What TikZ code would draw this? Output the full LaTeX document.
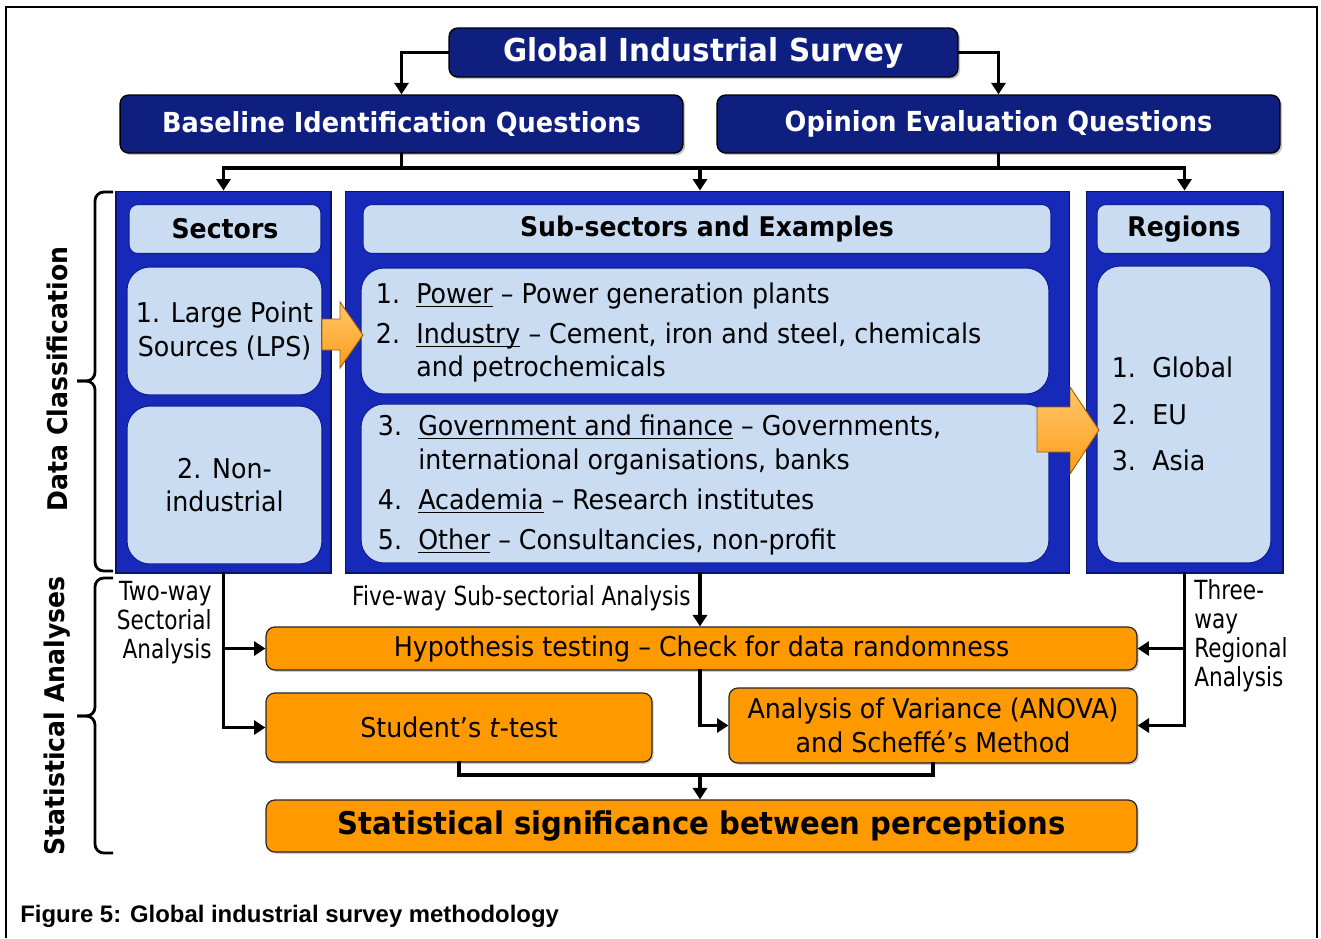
\documentclass[tikz,border=0pt]{standalone}
\usepackage{fontspec}
\setmainfont{DejaVu Sans}[FakeStretch=0.93]
\newfontfamily\narrowfont{DejaVu Sans}[FakeStretch=0.82]
\newfontfamily\captionfont{Liberation Sans}
\usetikzlibrary{positioning,arrows.meta,calc,shadows}
\definecolor{gisNavy}{HTML}{0F1F80}
\definecolor{gisPanel}{HTML}{1729B8}
\definecolor{gisPanelEdge}{HTML}{0A1466}
\definecolor{gisPale}{HTML}{C9DCF2}
\definecolor{gisPaleEdge}{HTML}{0E1E96}
\definecolor{gisOrange}{HTML}{FF9900}
\definecolor{gisArrowTop}{HTML}{FFC76A}
\definecolor{gisArrowBot}{HTML}{FF9D1C}
\definecolor{gisArrowEdge}{HTML}{9A5A00}
\newcommand{\gisTitle}{\fontsize{18}{20}\selectfont\bfseries}
\newcommand{\gisQuest}{\fontsize{15.7}{17}\selectfont\bfseries}
\newcommand{\gisHead}{\fontsize{15.4}{17}\selectfont\bfseries}
\newcommand{\gisBody}{\fontsize{15.5}{19}\selectfont}
\newcommand{\gisBig}{\fontsize{17.8}{20}\selectfont\bfseries}
\newcommand{\gisSide}{\narrowfont\fontsize{15}{16.6}\selectfont}
\newcommand{\subsector}[1]{\underline{\smash{#1}}}
\tikzset{
  frameline/.style={draw=black, line width=1.2pt},
  survey/.style={
    draw=black, line width=0.8pt, fill=gisNavy, rounded corners=5pt,
    text=white, inner sep=0pt, font=\gisTitle,
    drop shadow={shadow xshift=1.2pt, shadow yshift=-1.2pt, opacity=0.45}},
  question/.style={survey, font=\gisQuest,
    minimum width=11.26cm, minimum height=1.16cm},
  panel/.style={draw=gisPanelEdge, line width=0.6pt, fill=gisPanel,
    minimum height=7.64cm, inner sep=0pt},
  panelhead/.style={draw=gisPaleEdge, line width=0.6pt, fill=gisPale,
    rounded corners=5pt, minimum height=0.98cm, inner sep=0pt, font=\gisHead},
  listbox/.style={draw=gisPaleEdge, line width=0.6pt, fill=gisPale,
    rounded corners=13pt, inner sep=0pt, font=\gisBody},
  listtext/.style={anchor=west, inner sep=0pt, font=\gisBody},
  stat/.style={draw=black!85, line width=0.7pt, fill=gisOrange,
    rounded corners=5pt, inner sep=0pt, font=\gisBody,
    drop shadow={shadow xshift=1pt, shadow yshift=-1pt, opacity=0.4}},
  bigarrow/.style={top color=gisArrowTop, bottom color=gisArrowBot,
    draw=gisArrowEdge, line width=0.5pt},
  wire/.style={draw=black, line width=2.2pt, line cap=rect},
  conn/.style={wire, -{Triangle[length=6.5pt,width=8pt]}},
  sidelabel/.style={inner sep=0pt, font=\gisSide},
  sidetitle/.style={inner sep=0pt, font=\gisHead},
  classbrace/.style={draw=black, line width=1.6pt, rounded corners=5pt},
}

\begin{document}
\begin{tikzpicture}[x=0.02cm, y=-0.02cm]
\useasboundingbox (0,0) rectangle (1321,938);
\draw[frameline] (6,938) -- (6,7) -- (1317,7) -- (1317,938);

% survey and the two question sets
\node[survey, minimum width=10.18cm, minimum height=0.98cm] (gis) at (703.5,52.5)
  {Global Industrial Survey};
\node[question] (biq) at (401.5,124) {Baseline Identification Questions};
\node[question] (oeq) at (998.5,124) {Opinion Evaluation Questions};

% data classification panels
\node[panel, minimum width=4.3cm] (secpanel) at (223.5,382) {};
\node[panel, minimum width=14.5cm] (subpanel) at (707.5,382) {};
\node[panel, minimum width=3.94cm] (regpanel) at (1184.5,382) {};

\node[panelhead, minimum width=3.84cm] (sechead) at (225,229) {Sectors};
\node[listbox, minimum width=3.9cm, minimum height=2.56cm, align=center] (lps)
  at (224.5,331) {1. Large Point\\Sources (LPS)};
\node[listbox, minimum width=3.9cm, minimum height=3.16cm, align=center] (nonind)
  at (224.5,485) {2. Non-\\industrial};

\node[panelhead, minimum width=13.76cm] (subhead) at (707,229) {Sub-sectors and Examples};
\node[listbox, minimum width=13.76cm, minimum height=2.52cm] (subA) at (705,331) {};
\node[listbox, minimum width=13.76cm, minimum height=3.18cm] (subB) at (705,483.5) {};
\node[listtext] (subAtext) at ([xshift=0.3cm, yshift=-0.05cm]subA.west) {%
  \begin{tabular}{@{}p{23pt}@{}l@{}}
  1. & \subsector{Power} – Power generation plants\\[3.8pt]
  2. & \subsector{Industry} – Cement, iron and steel, chemicals\\
     & and petrochemicals
  \end{tabular}};
\node[listtext] (subBtext) at ([xshift=0.34cm, yshift=-0.05cm]subB.west) {%
  \begin{tabular}{@{}p{23pt}@{}l@{}}
  3. & \subsector{Government and finance} – Governments,\\
     & international organisations, banks\\[4pt]
  4. & \subsector{Academia} – Research institutes\\[3.8pt]
  5. & \subsector{Other} – Consultancies, non-profit
  \end{tabular}};

\node[panelhead, minimum width=3.48cm] (reghead) at (1184,229) {Regions};
\node[listbox, minimum width=3.48cm, minimum height=5.94cm] (reglist) at (1184,414.5) {};
\node[listtext] (reglisttext) at ([xshift=0.3cm, yshift=-0.06cm]reglist.west) {%
  \begin{tabular}{@{}p{23pt}@{}l@{}}
  1. & Global\\[7.6pt]
  2. & EU\\[7.6pt]
  3. & Asia
  \end{tabular}};

% block arrows between the panels
\shade[bigarrow] (322,319) -- (340,319) -- (340,302) -- (363,335) -- (340,368)
  -- (340,350) -- (322,350) -- cycle;
\shade[bigarrow] (1037,407) -- (1070,407) -- (1070,387) -- (1099,430) -- (1070,474)
  -- (1070,452) -- (1037,452) -- cycle;

% statistical analyses
\node[stat, minimum width=17.42cm, minimum height=0.86cm] (hyp) at (701.5,648.5)
  {Hypothesis testing – Check for data randomness};
\node[stat, minimum width=7.72cm, minimum height=1.38cm] (ttest) at (459,727.5)
  {Student’s \textit{t}-test};
\node[stat, minimum width=8.16cm, minimum height=1.5cm, align=center] (anova) at (933,725.5)
  {Analysis of Variance (ANOVA)\\and Scheffé’s Method};
\node[stat, minimum width=17.42cm, minimum height=1.04cm, font=\gisBig] (signif) at (701.5,826)
  {Statistical significance between perceptions};

\node[sidelabel, anchor=north east, align=right] (twoway) at (212,581)
  {Two-way\\Sectorial\\Analysis};
\node[sidelabel, anchor=east] (fiveway) at (691,598) {Five-way Sub-sectorial Analysis};
\node[sidelabel, anchor=north west, align=left] (threeway) at (1194,579)
  {Three-\\way\\Regional\\Analysis};

% connectors
\coordinate (bus) at (700,168);
\coordinate (join) at (700,775);
\draw[conn] (gis.west) -| (biq.north);
\draw[conn] (gis.east) -| (oeq.north);
\draw[wire] (biq.south) -- (biq.south |- bus);
\draw[wire] (oeq.south) -- (oeq.south |- bus);
\draw[wire] (secpanel.north |- bus) -- (regpanel.north |- bus);
\draw[conn] (secpanel.north |- bus) -- (secpanel.north);
\draw[conn] (bus) -- (bus |- subpanel.north);
\draw[conn] (regpanel.north |- bus) -- (regpanel.north);

\draw[conn] (secpanel.south) |- (ttest.west);
\draw[conn] (secpanel.south |- hyp.west) -- (hyp.west);
\draw[conn] (subpanel.south -| bus) -- (hyp.north -| bus);
\draw[conn] (hyp.south -| bus) |- (anova.west);
\draw[conn] (regpanel.south) |- (anova.east);
\draw[conn] (regpanel.south |- hyp.east) -- (hyp.east);
\draw[wire] (ttest.south) |- (join) -| (anova.south);
\draw[conn] (join) -- (join |- signif.north);

% braces and group titles
\draw[classbrace] (113,192) -- (95,192) -- (95,381) -- (77,381);
\draw[classbrace] (77,381) -- (95,381) -- (95,571) -- (113,571);
\draw[classbrace] (113,578) -- (95,578) -- (95,716) -- (77,716);
\draw[classbrace] (77,716) -- (95,716) -- (95,853) -- (113,853);
\node[sidetitle, rotate=90] (dataclass) at (57,379) {Data Classification};
\node[sidetitle, rotate=90] (statan) at (57,716) {Statistical Analyses};

\node[anchor=west, inner sep=0pt, font={\captionfont\fontsize{13.6}{16}\selectfont\bfseries}]
  (caption) at (20,916) {Figure 5: Global industrial survey methodology};
\end{tikzpicture}
\end{document}
